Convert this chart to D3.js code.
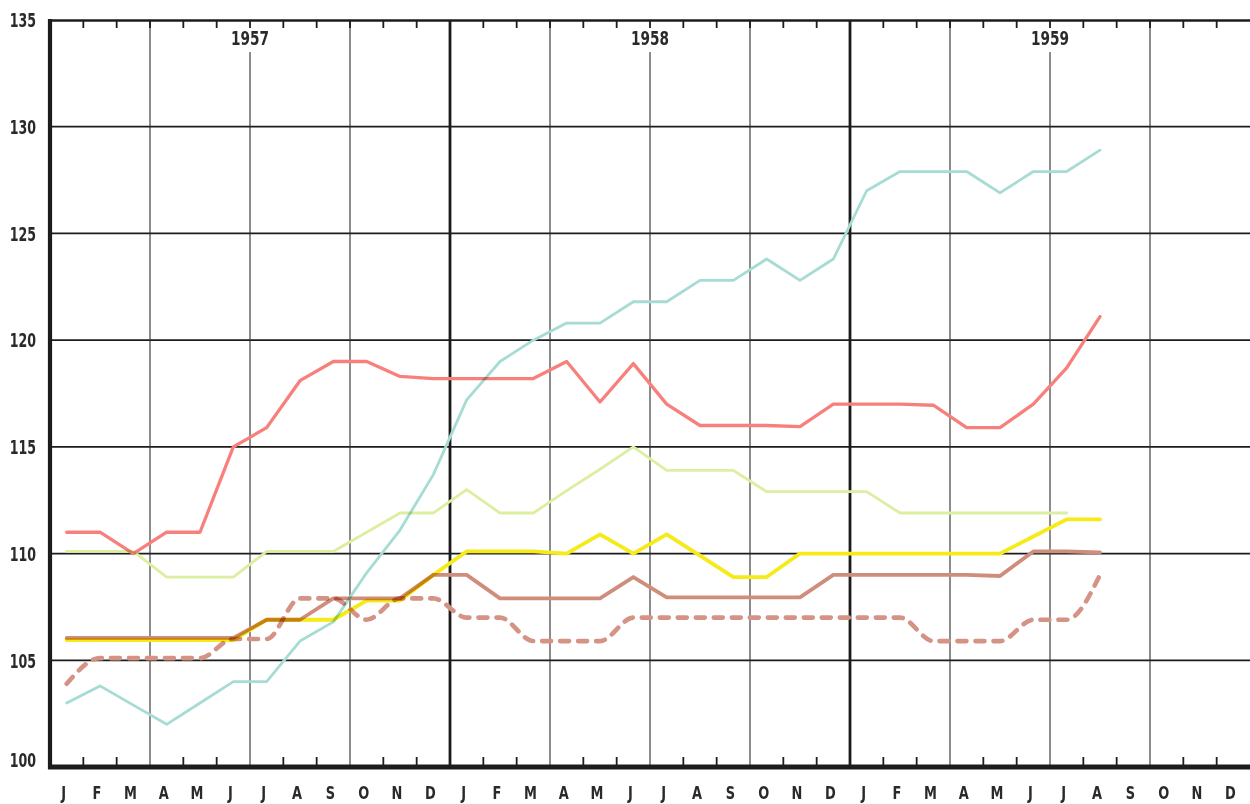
<!DOCTYPE html>
<html><head><meta charset="utf-8">
<script src="https://cdn.jsdelivr.net/npm/d3@7"></script>
<style>
html,body{margin:0;padding:0;background:#fff;}
svg{display:block;}
text{font-family:"DejaVu Sans Condensed","DejaVu Sans",sans-serif;font-weight:bold;fill:#2a2a2a;}
</style></head>
<body><svg id="c" width="1250" height="804"></svg>
<script>
const monthLabels = ["J","F","M","A","M","J","J","A","S","O","N","D"];
const years = ["1957","1958","1959"];
const yTicks = [100,105,110,115,120,125,130,135];

// Series values, monthly Jan 1957 .. Aug 1959 (32 months)
const seriesTeal = [103.0,103.8,102.9,102.0,103.0,104.0, 104.0,105.9,106.8,109.1,111.1,113.7,
                    117.2,119.0,120.0,120.8,120.8,121.8, 121.8,122.8,122.8,123.8,122.8,123.8,
                    127.0,127.9,127.9,127.9,126.9,127.9, 127.9,128.9];
const seriesRed = [111.0,111.0,110.0,111.0,111.0,115.0, 115.9,118.1,119.0,119.0,118.3,118.2,
                   118.2,118.2,118.2,119.0,117.1,118.9, 117.0,116.0,116.0,116.0,115.95,117.0,
                   117.0,117.0,116.95,115.9,115.9,117.0, 118.7,121.1];
const seriesLime = [110.1,110.1,110.1,108.9,108.9,108.9, 110.1,110.1,110.1,111.0,111.9,111.9,
                    113.0,111.9,111.9,112.95,113.95,115.0, 113.9,113.9,113.9,112.9,112.9,112.9,
                    112.9,111.9,111.9,111.9,111.9,111.9, 111.9,null];
const seriesYellow = [105.95,105.95,105.95,105.95,105.95,105.95, 106.9,106.9,106.9,107.8,107.8,109.0,
                      110.1,110.1,110.1,110.0,110.9,110.0, 110.9,109.9,108.9,108.9,110.0,110.0,
                      110.0,110.0,110.0,110.0,110.0,110.8, 111.6,111.6];
const seriesBrown = [106.05,106.05,106.05,106.05,106.05,106.05, 106.9,106.9,107.9,107.9,107.9,109.0,
                     109.0,107.9,107.9,107.9,107.9,108.9, 107.95,107.95,107.95,107.95,107.95,109.0,
                     109.0,109.0,109.0,109.0,108.95,110.1, 110.1,110.05];
const seriesBrownDashed = [103.9,105.1,105.1,105.1,105.1,106.0, 106.0,107.9,107.9,106.9,107.9,107.9,
                           107.0,107.0,105.9,105.9,105.9,107.0, 107.0,107.0,107.0,107.0,107.0,107.0,
                           107.0,107.0,105.9,105.9,105.9,106.9, 106.9,109.0];

const nMonths = years.length*12;
const svg = d3.select("#c");
const L=50, R=1250, T=20, B=767;

const xb = d3.scaleBand().domain(d3.range(nMonths)).range([L,R]).padding(0);
const xm = i => xb(i) + xb.bandwidth()/2;
const xEdge = d3.scaleLinear().domain([0,nMonths]).range([L,R]);
const y = d3.scaleLinear().domain([100,135]).range([B,T]);

const grid = svg.append("g");
grid.selectAll("line.h").data(yTicks.filter(v=>v>100 && v<135)).join("line")
  .attr("x1",L).attr("x2",R).attr("y1",d=>y(d)).attr("y2",d=>y(d))
  .attr("stroke","#1c1c1c").attr("stroke-width",1.8);
const edges = d3.range(1,nMonths);
grid.selectAll("line.q").data(edges.filter(e=>e%3===0 && e%12!==0)).join("line")
  .attr("x1",d=>xEdge(d)).attr("x2",d=>xEdge(d))
  .attr("y1",d=>(d%12===6)? 52 : T).attr("y2",B)
  .attr("stroke","#2e2e2e").attr("stroke-width",1.1);
grid.selectAll("line.yr").data(edges.filter(e=>e%12===0)).join("line")
  .attr("x1",d=>xEdge(d)).attr("x2",d=>xEdge(d)).attr("y1",T).attr("y2",B)
  .attr("stroke","#1c1c1c").attr("stroke-width",2.8);
grid.selectAll("line.tt").data(edges.filter(e=>e%12!==0)).join("line")
  .attr("x1",d=>xEdge(d)).attr("x2",d=>xEdge(d)).attr("y1",T).attr("y2",T+8)
  .attr("stroke","#1c1c1c").attr("stroke-width",1.8);
grid.selectAll("line.bt").data(edges.filter(e=>e%3!==0)).join("line")
  .attr("x1",d=>xEdge(d)).attr("x2",d=>xEdge(d)).attr("y1",B-10).attr("y2",B)
  .attr("stroke","#1c1c1c").attr("stroke-width",1.8);
grid.append("line").attr("x1",L).attr("x2",R).attr("y1",T+0.5).attr("y2",T+0.5).attr("stroke","#1c1c1c").attr("stroke-width",2.6);
grid.append("line").attr("x1",L-2).attr("x2",R).attr("y1",B).attr("y2",B).attr("stroke","#1c1c1c").attr("stroke-width",5);
grid.append("line").attr("x1",L).attr("x2",L).attr("y1",T-1).attr("y2",B+2).attr("stroke","#1c1c1c").attr("stroke-width",4.2);

// year labels (condensed horizontally)
svg.selectAll("g.year").data(years).join("g")
  .attr("transform",(d,i)=>`translate(${xEdge(i*12+6)},45) scale(0.76,1)`)
  .append("text").attr("text-anchor","middle").attr("font-size",20).text(d=>d);

// y axis labels
const yAxis = d3.axisLeft(y).tickValues(yTicks).tickSize(0).tickPadding(0).tickFormat(d3.format("d"));
const ga = svg.append("g").attr("transform","translate(36,0)").call(yAxis);
ga.select(".domain").remove();
ga.selectAll("text").attr("font-size",20).attr("dy",d=> d===100 ? "-0.05em" : "0.34em")
  .attr("transform","scale(0.7,1)")
  .style("font-family",'"DejaVu Sans Condensed","DejaVu Sans",sans-serif').style("font-weight","bold").style("fill","#2a2a2a");

// month labels
const xAxis = d3.axisBottom(xb).tickSize(0).tickPadding(0).tickFormat(i=>monthLabels[i%12]);
const gx = svg.append("g").attr("transform","translate(-3,786)").call(xAxis);
gx.select(".domain").remove();
gx.selectAll("text").attr("font-size",18).attr("dy","0.71em")
  .attr("transform","scale(0.8,1)")
  .style("font-family",'"DejaVu Sans Condensed","DejaVu Sans",sans-serif').style("font-weight","bold").style("fill","#2a2a2a");

// series lines
const lg = svg.append("g").style("isolation","isolate");
const mk = (curve)=> d3.line().defined(d=>d!=null).x((d,i)=>xm(i)).y(d=>y(d)).curve(curve);
const specs = [
  {data:seriesTeal, color:"#a6dcd3", w:2.8, curve:d3.curveLinear},
  {data:seriesLime, color:"#dcefa0", w:2.8, curve:d3.curveLinear},
  {data:seriesRed, color:"#f8807c", w:3.3, curve:d3.curveLinear},
  {data:seriesYellow, color:"#f6ea18", w:3.8, curve:d3.curveLinear},
  {data:seriesBrownDashed, color:"#d49385", w:4.6, curve:d3.curveMonotoneX, dash:"9,9"},
  {data:seriesBrown, color:"#cf8e7c", w:3.8, curve:d3.curveLinear},
];
specs.forEach(s=>{
  lg.append("path").datum(s.data).attr("d",mk(s.curve))
    .attr("fill","none").attr("stroke",s.color).attr("stroke-width",s.w)
    .attr("stroke-linejoin","round").attr("stroke-linecap","round")
    .attr("stroke-dasharray",s.dash||null)
    .style("mix-blend-mode","multiply");
});
</script></body></html>
